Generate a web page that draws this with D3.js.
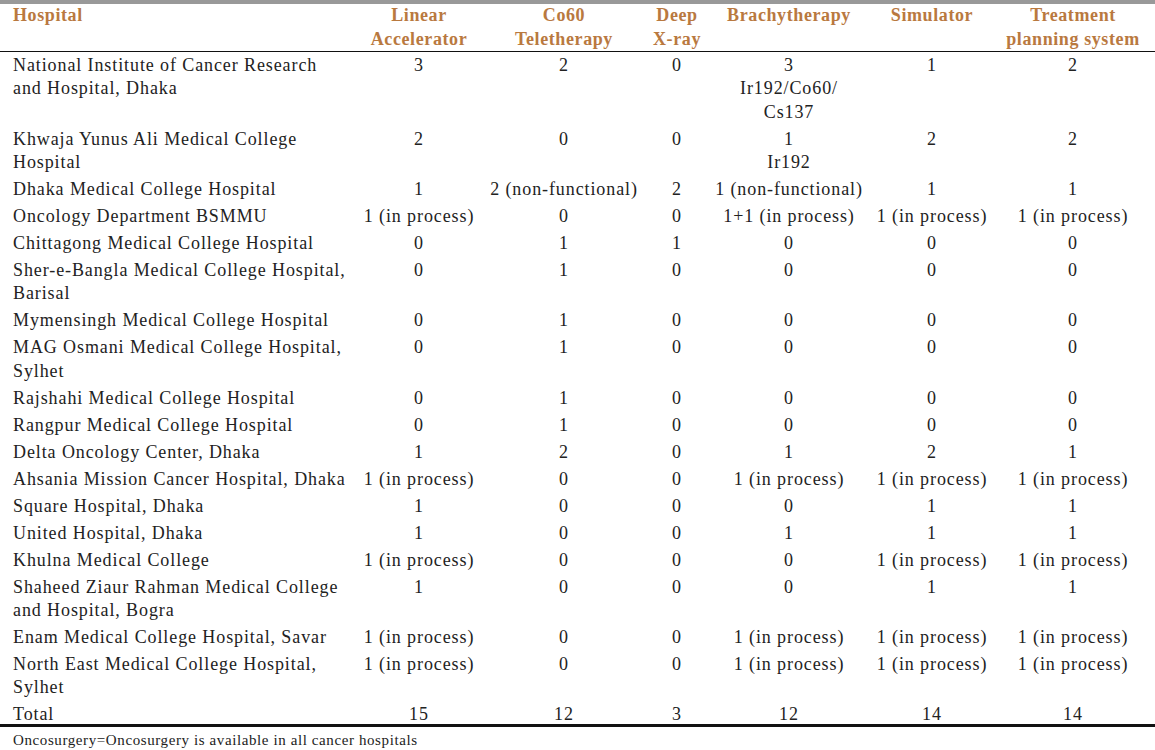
<!DOCTYPE html>
<html><head><meta charset="utf-8">
<script src="https://cdn.jsdelivr.net/npm/d3@7"></script>
<style>body{margin:0;background:#fff}svg{display:block}</style>
</head><body>
<svg id="c" width="1155" height="750"></svg>
<script>
const columns = ["Hospital", "Linear\nAccelerator", "Co60\nTeletherapy", "Deep\nX-ray", "Brachytherapy", "Simulator", "Treatment\nplanning system"];
const hospitals = [
 "National Institute of Cancer Research\nand Hospital, Dhaka",
 "Khwaja Yunus Ali Medical College\nHospital",
 "Dhaka Medical College Hospital",
 "Oncology Department BSMMU",
 "Chittagong Medical College Hospital",
 "Sher-e-Bangla Medical College Hospital,\nBarisal",
 "Mymensingh Medical College Hospital",
 "MAG Osmani Medical College Hospital,\nSylhet",
 "Rajshahi Medical College Hospital",
 "Rangpur Medical College Hospital",
 "Delta Oncology Center, Dhaka",
 "Ahsania Mission Cancer Hospital, Dhaka",
 "Square Hospital, Dhaka",
 "United Hospital, Dhaka",
 "Khulna Medical College",
 "Shaheed Ziaur Rahman Medical College\nand Hospital, Bogra",
 "Enam Medical College Hospital, Savar",
 "North East Medical College Hospital,\nSylhet",
 "Total"
];
const IP = "1 (in process)";
const linac = ["3","2","1",IP,"0","0","0","0","0","0","1",IP,"1","1",IP,"1",IP,IP,"15"];
const co60 = ["2","0","2 (non-functional)","0","1","1","1","1","1","1","2","0","0","0","0","0","0","0","12"];
const deepXray = ["0","0","2","0","1","0","0","0","0","0","0","0","0","0","0","0","0","0","3"];
const brachy = ["3\nIr192/Co60/\nCs137","1\nIr192","1 (non-functional)","1+1 (in process)","0","0","0","0","0","0","1",IP,"0","1","0","0",IP,IP,"12"];
const simulator = ["1","2","1",IP,"0","0","0","0","0","0","2",IP,"1","1",IP,"1",IP,IP,"14"];
const tps = ["2","2","1",IP,"0","0","0","0","0","0","1",IP,"1","1",IP,"1",IP,IP,"14"];
const footnote = "Oncosurgery=Oncosurgery is available in all cancer hospitals";

const svg = d3.select("#c");
const W = 1155;
const valueCols = [linac, co60, deepXray, brachy, simulator, tps];
const colX = d3.scaleOrdinal().domain(d3.range(7)).range([13, 419, 564, 677, 789, 932, 1073]);
const bodyColor = "#222";
const headColor = "#b9793f";
const LH = 23.3, RH = 27;

// top grey bar
svg.append("rect").attr("x",0).attr("y",0).attr("width",W).attr("height",4).attr("fill","#999");

// header
columns.forEach((c,i)=>{
  const t = svg.append("text").attr("x",colX(i)).attr("y",21)
    .attr("text-anchor", i===0?"start":"middle")
    .attr("font-family","'Liberation Serif', 'Times New Roman', serif")
    .attr("font-weight","bold").attr("font-size",18).attr("letter-spacing",0.6)
    .attr("fill",headColor);
  c.split("\n").forEach((ln,k)=>t.append("tspan").attr("x",colX(i)).attr("dy",k?24:0).text(ln));
});
svg.append("line").attr("x1",0).attr("x2",W).attr("y1",51.5).attr("y2",51.5).attr("stroke","#111").attr("stroke-width",1.2);

// rows
let y = 71;
hospitals.forEach((h,r)=>{
  const cells = [h, ...valueCols.map(a=>a[r])];
  const nLines = d3.max(cells, c=>c.split("\n").length);
  cells.forEach((c,i)=>{
    const t = svg.append("text").attr("x",colX(i)).attr("y",y)
      .attr("text-anchor", i===0?"start":"middle")
      .attr("font-family","'Liberation Serif', 'Times New Roman', serif")
      .attr("font-size",18).attr("letter-spacing",0.9).attr("fill",bodyColor);
    c.split("\n").forEach((ln,k)=>t.append("tspan").attr("x",colX(i)).attr("dy",k?LH:0).text(ln));
  });
  y += (nLines-1)*LH + RH;
});

svg.append("rect").attr("x",0).attr("y",724).attr("width",W).attr("height",3).attr("fill","#111");
svg.append("text").attr("x",13).attr("y",745)
  .attr("font-family","'Liberation Serif', 'Times New Roman', serif")
  .attr("font-size",15).attr("letter-spacing",0.6).attr("fill",bodyColor).text(footnote);
</script>
</body></html>
